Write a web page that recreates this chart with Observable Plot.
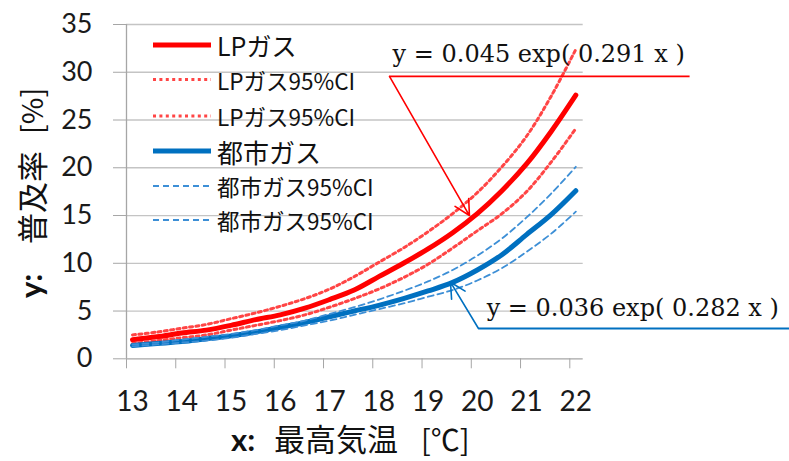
<!DOCTYPE html>
<html><head><meta charset="utf-8">
<script src="https://cdn.jsdelivr.net/npm/d3@7"></script>
<script src="https://cdn.jsdelivr.net/npm/@observablehq/plot@0.6"></script>
<style>html,body{margin:0;padding:0;background:#fff;}</style>
</head><body><div id="chart"></div>
<script>
// ---- data ----
const temps      = [13, 13.5, 14, 14.5, 15, 15.5, 16, 16.5, 17, 17.5, 18, 18.5, 19, 19.5, 20, 20.5, 21, 21.5, 22];
const lpMain     = [2.0, 2.3, 2.7, 3.0, 3.5, 4.1, 4.6, 5.3, 6.2, 7.2, 8.6, 10.0, 11.5, 13.2, 15.2, 17.6, 20.4, 23.8, 27.6];
const lpUpper    = [2.5, 2.8, 3.2, 3.6, 4.2, 4.8, 5.5, 6.3, 7.3, 8.6, 10.1, 11.6, 13.3, 15.2, 17.4, 20.1, 23.3, 27.5, 32.4];
const lpLower    = [1.6, 1.9, 2.2, 2.5, 3.0, 3.5, 4.0, 4.6, 5.4, 6.3, 7.3, 8.5, 9.9, 11.6, 13.4, 15.2, 17.5, 20.6, 24.1];
const cityMain   = [1.4, 1.6, 1.8, 2.1, 2.4, 2.8, 3.3, 3.8, 4.4, 5.0, 5.6, 6.3, 7.1, 8.0, 9.3, 10.9, 13.0, 15.1, 17.6];
const cityUpper  = [1.5, 1.7, 2.0, 2.3, 2.6, 3.0, 3.5, 4.0, 4.7, 5.4, 6.2, 7.1, 8.1, 9.3, 10.8, 12.6, 14.8, 17.3, 20.1];
const cityLower  = [1.3, 1.5, 1.7, 1.9, 2.2, 2.6, 3.0, 3.5, 4.0, 4.6, 5.2, 5.8, 6.5, 7.2, 8.2, 9.5, 11.2, 13.1, 15.4];

const yTicks      = [0, 5, 10, 15, 20, 25, 30, 35];
const xTickLabels = [13, 14, 15, 16, 17, 18, 19, 20, 21, 22];
const xAxisMin = 12.878, xAxisMax = 22.15;          // Excel axis bounds
const xTickPositions = xTickLabels.map(v => +(v - (13 - xAxisMin)).toFixed(3));

const legendLabels = ["LPガス", "LPガス95%CI", "LPガス95%CI", "都市ガス", "都市ガス95%CI", "都市ガス95%CI"];

// equation call-outs (data coordinates)
const eqTexts   = ["y = 0.045 exp( 0.291 x )", "y = 0.036 exp( 0.282 x )"];
const eqTextX   = [18.28, 20.19];
const eqTextY   = [31.06, 4.53];
const eqLineX1  = [18.217, 20.024];
const eqLineX2  = [24.31, 26.4];
const eqLineY   = [29.56, 3.17];
const eqTargetX = [19.84, 19.456];
const eqTargetY = [15.0, 8.02];
const eqColors  = ["#ff0000", "#0070c0"];

// ---- build tables ----
const pts = ys => temps.map((t, i) => ({x: t, y: ys[i]}));
const callouts = eqTexts.map((t, i) => ({
  text: t, tx: eqTextX[i], ty: eqTextY[i],
  lx1: eqLineX1[i], lx2: eqLineX2[i], ly: eqLineY[i],
  ax: eqTargetX[i], ay: eqTargetY[i], color: eqColors[i]
}));

const RED = "#ff0000", RED_CI = "#ff4545", BLUE = "#0070c0", BLUE_CI = "#3d8fd6";
const curve = "catmull-rom";

const svgNode = Plot.plot({
  width: 789, height: 461,
  marginLeft: 126, marginRight: 206.3, marginTop: 24, marginBottom: 102.7,
  x: {domain: [xAxisMin, xAxisMax]},
  y: {domain: [0, 35]},
  style: {fontFamily: "Lato, 'Noto Sans', sans-serif", background: "#fff", color: "#1a1a1a", overflow: "visible"},
  marks: [
    Plot.ruleY(yTicks.filter(v => v > 0), {stroke: "#c4c4c4", strokeWidth: 1.3}),
    Plot.ruleY([0], {stroke: "#a6a6a6", strokeWidth: 1.3}),
    Plot.ruleX([xAxisMin], {stroke: "#a6a6a6", strokeWidth: 1.3}),
    Plot.axisY({ticks: yTicks, tickSize: 13, tickPadding: 21, fontSize: 27, stroke: "#a6a6a6", color: "#1a1a1a", label: null, tickFormat: d => String(d)}),
    Plot.axisX({ticks: xTickPositions, tickSize: 10, tickFormat: () => "", stroke: "#a6a6a6", label: null}),
    Plot.axisX({ticks: xTickLabels, tickSize: 0, tickPadding: 32, fontSize: 28, color: "#1a1a1a", label: null, tickFormat: d => String(d)}),

    Plot.line(pts(lpMain),   {x: "x", y: "y", stroke: RED, strokeWidth: 5, curve}),
    Plot.line(pts(lpUpper),  {x: "x", y: "y", stroke: RED_CI, strokeWidth: 3, strokeDasharray: "3 3.4", curve}),
    Plot.line(pts(lpLower),  {x: "x", y: "y", stroke: RED_CI, strokeWidth: 3, strokeDasharray: "3 3.4", curve}),
    Plot.line(pts(cityMain), {x: "x", y: "y", stroke: BLUE, strokeWidth: 5, curve}),
    Plot.line(pts(cityUpper),{x: "x", y: "y", stroke: BLUE_CI, strokeWidth: 1.8, strokeDasharray: "6 4", curve}),
    Plot.line(pts(cityLower),{x: "x", y: "y", stroke: BLUE_CI, strokeWidth: 1.8, strokeDasharray: "6 4", curve}),

    Plot.link(callouts, {x1: "lx1", x2: "lx2", y1: "ly", y2: "ly", stroke: "color", strokeWidth: 1.8}),
    Plot.arrow(callouts, {x1: "lx1", y1: "ly", x2: "ax", y2: "ay", stroke: "color", strokeWidth: 1.6, headLength: 16, headAngle: 55}),
    Plot.text(callouts, {x: "tx", y: "ty", text: "text", textAnchor: "start", lineAnchor: "bottom",
      fontFamily: "'DejaVu Serif', serif", fontSize: 24, fill: "#111"})
  ]
});

document.getElementById("chart").appendChild(svgNode);
const svg = d3.select(svgNode);

// ---- legend (inside plot, top-left) ----
const legendStyle = [
  {stroke: RED,     width: 5,   dash: null,    size: 25},
  {stroke: RED_CI,  width: 3,   dash: "3 3.4", size: 22.5},
  {stroke: RED_CI,  width: 3,   dash: "3 3.4", size: 22.5},
  {stroke: BLUE,    width: 5,   dash: null,    size: 26},
  {stroke: BLUE_CI, width: 1.8, dash: "6 4",   size: 22.5},
  {stroke: BLUE_CI, width: 1.8, dash: "6 4",   size: 22.5}
];
const legendRowY = [45, 79.5, 116, 151, 186, 220];
const lg = svg.append("g").attr("text-anchor", "start");
legendLabels.forEach((lab, i) => {
  const s = legendStyle[i], y = legendRowY[i];
  lg.append("line").attr("x1", 153).attr("x2", 211).attr("y1", y).attr("y2", y)
    .attr("stroke", s.stroke).attr("stroke-width", s.width)
    .attr("stroke-dasharray", s.dash);
  lg.append("text").attr("x", 217).attr("y", y).attr("dominant-baseline", "central")
    .attr("text-anchor", "start")
    .attr("font-family", "'Noto Sans CJK JP', sans-serif").attr("font-size", s.size)
    .attr("fill", "#111").text(lab);
});

// ---- axis titles ----
const xt = svg.append("text").attr("y", 451).attr("fill", "#111").attr("text-anchor", "start");
xt.append("tspan").attr("x", 231).attr("font-family", "Lato, sans-serif").attr("font-weight", 700).attr("font-size", 31).text("x:");
xt.append("tspan").attr("x", 274).attr("font-family", "'Noto Sans CJK JP', sans-serif").attr("font-size", 31).text("最高気温");
xt.append("tspan").attr("x", 421).attr("font-family", "'Noto Sans CJK JP', sans-serif").attr("font-size", 29).text("[℃]");

const yt = svg.append("text").attr("transform", "translate(30,298) rotate(-90)")
  .attr("text-anchor", "start").attr("dominant-baseline", "central").attr("fill", "#111");
yt.append("tspan").attr("x", 0).attr("font-family", "Lato, sans-serif").attr("font-weight", 700).attr("font-size", 31).text("y:");
yt.append("tspan").attr("x", 54).attr("font-family", "'Noto Sans CJK JP', sans-serif").attr("font-size", 31).text("普及率");
yt.append("tspan").attr("x", 164).attr("font-family", "'Noto Sans CJK JP', sans-serif").attr("font-size", 29).text("[%]");
</script>
</body></html>
